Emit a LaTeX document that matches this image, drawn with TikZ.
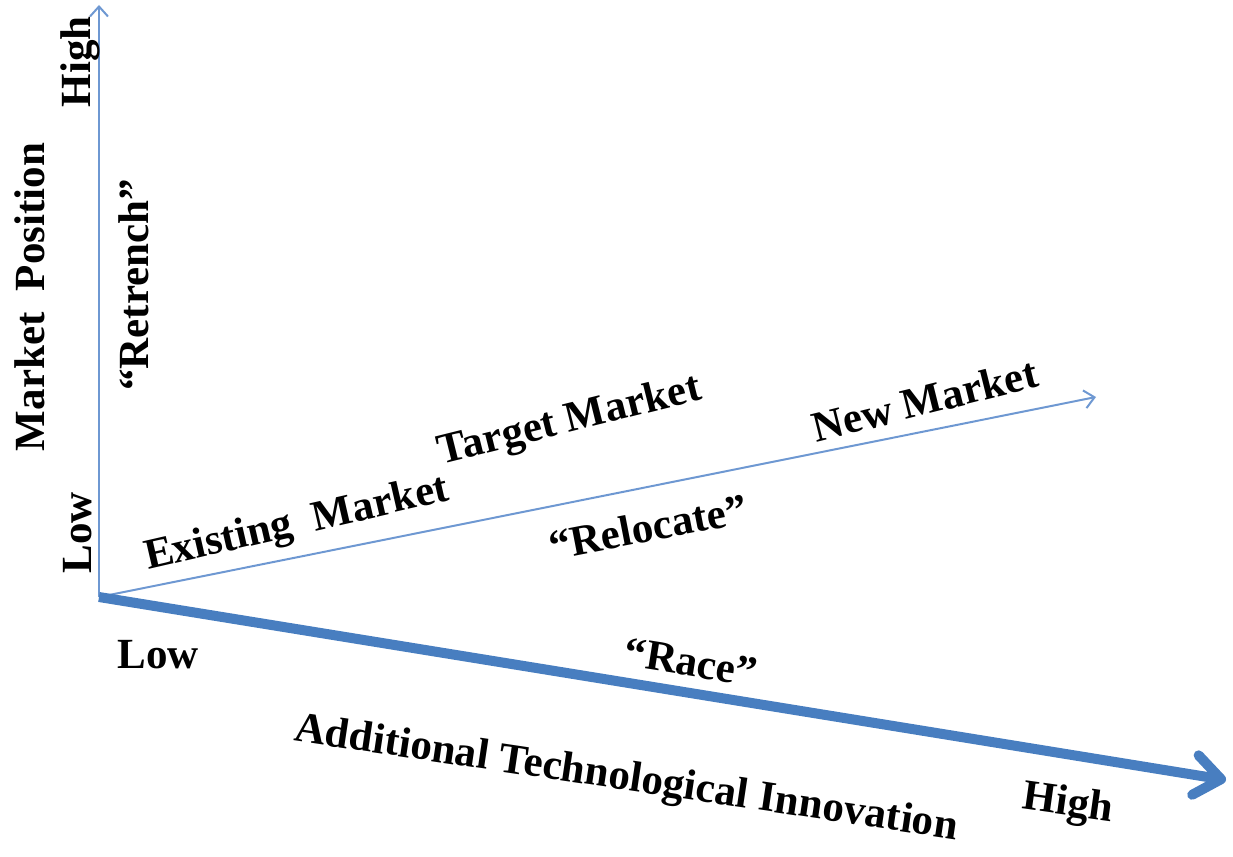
\documentclass[tikz,border=0pt]{standalone}
\usepackage{fontspec}
\setmainfont{Liberation Serif}
\usetikzlibrary{arrows.meta}
\definecolor{thinblue}{RGB}{110,152,210}
\definecolor{thickblue}{RGB}{72,126,192}
\tikzset{
  lbl/.style={font=\fontsize{43}{50}\selectfont\bfseries, inner sep=0pt, anchor=center},
  thinaxis/.style={draw=thinblue, line width=2pt, -{Straight Barb[length=10pt,width=18pt,line width=2pt]}},
  thickaxis/.style={draw=thickblue, line width=10pt, -{Straight Barb[length=26pt,width=40pt,line width=10pt,round]}}
}
\begin{document}
\begin{tikzpicture}[x=1pt,y=-1pt]
\useasboundingbox (0,0) rectangle (1233,856);
\coordinate (o) at (99,597);
\coordinate (vtop) at (99,5);
\coordinate (dtip) at (1096,397);
\coordinate (htip) at (1226,780);
\draw[thinaxis] (o) -- (vtop);
\draw[thinaxis] (o) -- (dtip);
\draw[thickaxis] (o) -- (htip);

\node[lbl, rotate=90] (highv) at (80,62) {High};
\node[lbl, rotate=90] (mpos) at (30,297) {Market\ \ Position};
\node[lbl, rotate=90] (retrench) at (134,285) {“Retrench”};
\node[lbl, rotate=90] (lowv) at (78,533) {Low};
\node[lbl] (lowh) at (158,655) {Low};
\node[lbl, rotate=13] (exist) at (297,525) {Existing\ \ Market};
\node[lbl, rotate=14] (target) at (570,422) {Target Market};
\node[lbl, rotate=14] (newm) at (925,400) {New Market};
\node[lbl, rotate=11] (reloc) at (648,527) {“Relocate”};
\node[lbl, rotate=-9] (race) at (691,662) {“Race”};
\node[lbl, rotate=-8.5] (addit) at (626,780) {Additional Technological Innovation};
\node[lbl, rotate=-8] (highh) at (1068,805) {High};
\end{tikzpicture}
\end{document}
